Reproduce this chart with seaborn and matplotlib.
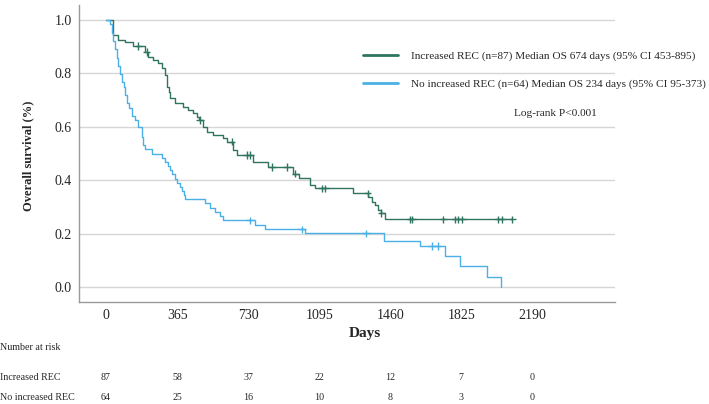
import numpy as np
import pandas as pd
import matplotlib
matplotlib.use("Agg")
import matplotlib.pyplot as plt
import seaborn as sns

# ---------------- data ----------------
groups = ["Increased REC (n=87) Median OS 674 days (95% CI 453-895)",
          "No increased REC (n=64) Median OS 234 days (95% CI 95-373)"]

inc_t = [0, 38, 60, 95, 140, 200, 218, 243, 269, 286, 303, 315, 322, 330, 355, 397,
         423, 449, 466, 478, 500, 517, 552, 603, 620, 654, 672, 757, 830, 963, 989,
         1049, 1074, 1270, 1347, 1364, 1381, 1398, 1415, 1432, 2087]
inc_s = [1.0, 0.944, 0.925, 0.919, 0.903, 0.880, 0.862, 0.850, 0.838, 0.819, 0.794,
         0.750, 0.731, 0.706, 0.688, 0.675, 0.663, 0.650, 0.638, 0.625, 0.600, 0.582,
         0.569, 0.557, 0.544, 0.513, 0.494, 0.469, 0.450, 0.425, 0.407, 0.382, 0.370,
         0.351, 0.338, 0.320, 0.307, 0.288, 0.277, 0.253, 0.253]
inc_cens = [166, 209, 483, 646, 723, 740, 852, 929, 972, 1109, 1126, 1345, 1415,
            1563, 1573, 1733, 1795, 1810, 1830, 2015, 2036, 2087]

no_t = [0, 21, 30, 38, 46, 55, 63, 72, 80, 90, 98, 108, 120, 135, 149, 166, 183, 192,
        200, 234, 286, 303, 320, 330, 340, 355, 365, 380, 389, 400, 406, 509, 535, 560,
        586, 603, 766, 817, 1023, 1429, 1614, 1743, 1820, 1957, 2029]
no_s = [1.0, 0.984, 0.953, 0.922, 0.891, 0.859, 0.828, 0.797, 0.766, 0.750, 0.719,
        0.688, 0.672, 0.641, 0.625, 0.600, 0.563, 0.531, 0.516, 0.500, 0.484, 0.469,
        0.453, 0.438, 0.422, 0.406, 0.391, 0.375, 0.359, 0.344, 0.328, 0.313, 0.297,
        0.281, 0.266, 0.250, 0.234, 0.216, 0.201, 0.173, 0.154, 0.116, 0.077, 0.039, 0.0]
no_cens = [740, 1006, 1336, 1674, 1703]

x_ticks = [0, 365, 730, 1095, 1460, 1825, 2190]
y_ticks = [0.0, 0.2, 0.4, 0.6, 0.8, 1.0]
risk_rows = ["Increased REC", "No increased REC"]
risk_inc = [87, 58, 37, 22, 12, 7, 0]
risk_no = [64, 25, 16, 10, 8, 3, 0]
logrank = "Log-rank P<0.001"

# ---------------- style ----------------
sns.set_style("white")
plt.rcParams["font.family"] = ["Liberation Serif", "DejaVu Serif"]

green = "#2f7460"
blue = "#4ab0e6"
palette = {groups[0]: green, groups[1]: blue}

curves = pd.concat([
    pd.DataFrame({"t": inc_t, "s": inc_s, "g": groups[0]}),
    pd.DataFrame({"t": no_t, "s": no_s, "g": groups[1]}),
], ignore_index=True)


def step_value(times, surv, when):
    idx = np.searchsorted(np.asarray(times), np.asarray(when), side="right") - 1
    return np.asarray(surv)[idx]


cens = pd.concat([
    pd.DataFrame({"t": inc_cens, "s": step_value(inc_t, inc_s, inc_cens), "g": groups[0]}),
    pd.DataFrame({"t": no_cens, "s": step_value(no_t, no_s, no_cens), "g": groups[1]}),
], ignore_index=True)

fig = plt.figure(figsize=(7.09, 4.04), dpi=100)
ax = fig.add_axes([79 / 709, 1 - 302 / 404, (615 - 79) / 709, (302 - 5) / 404])

sns.lineplot(data=curves, x="t", y="s", hue="g", palette=palette, estimator=None,
             drawstyle="steps-post", linewidth=1.0, ax=ax, legend=False, sort=False)
sns.scatterplot(data=cens, x="t", y="s", hue="g", palette=palette, marker="+",
                s=28, linewidth=1.0, ax=ax, legend=False, zorder=3)

ax.set_xlim(-139, 2615)
ax.set_ylim(-0.056, 1.056)
ax.set_xticks(x_ticks)
ax.set_xticklabels([str(v) for v in x_ticks], fontsize=10)
ax.set_yticks(y_ticks)
ax.set_yticklabels([f"{v:.1f}" for v in y_ticks], fontsize=10)
ax.tick_params(axis="both", length=0, pad=5)
ax.yaxis.grid(True, color="#d6d6d6", linewidth=1.0)
ax.xaxis.grid(False)
ax.set_axisbelow(True)
for sp in ["top", "right"]:
    ax.spines[sp].set_visible(False)
for sp in ["left", "bottom"]:
    ax.spines[sp].set_color("#9a9a9a")
    ax.spines[sp].set_linewidth(1.0)
ax.set_xlabel("")
ax.set_ylabel("")

fig.text(28 / 709, 1 - 156 / 404, "Overall survival (%)", rotation=90,
         ha="center", va="center", fontsize=9, fontweight="bold")
fig.text(365 / 709, 1 - 333 / 404, "Days", ha="center", va="center",
         fontsize=11, fontweight="bold")

# legend
from matplotlib.lines import Line2D
handles = [Line2D([0], [0], color=green, lw=2), Line2D([0], [0], color=blue, lw=2)]
fig.legend(handles, groups, loc="upper left", bbox_to_anchor=(363 / 709, 1 - 51 / 404),
           frameon=False, fontsize=8.1, handlelength=3.1, handletextpad=1.15,
           labelspacing=1.55, borderpad=0, borderaxespad=0)
fig.text(555 / 709, 1 - 113 / 404, logrank, ha="center", va="center", fontsize=8.2)

# number at risk table
fig.text(0.0, 1 - 348 / 404, "Number at risk", ha="left", va="center", fontsize=7.2)
row_y = [1 - 377 / 404, 1 - 397 / 404]
trans = matplotlib.transforms.blended_transform_factory(ax.transData, fig.transFigure)
for ry, name, vals in zip(row_y, risk_rows, [risk_inc, risk_no]):
    fig.text(0.0, ry, name, ha="left", va="center", fontsize=7.2)
    for xv, n in zip(x_ticks, vals):
        ax.text(xv, ry, str(n), transform=trans, ha="center", va="center",
                fontsize=7.2, clip_on=False)

fig.savefig("out.png", dpi=100)
